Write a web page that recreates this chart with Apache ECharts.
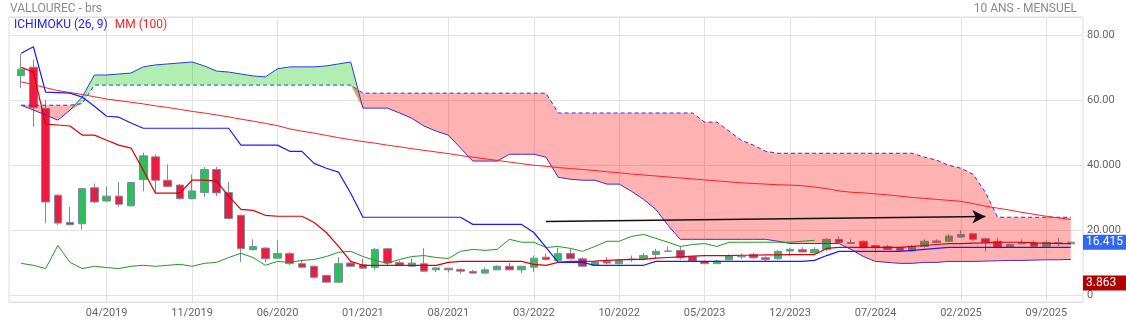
<!DOCTYPE html>
<html><head><meta charset="utf-8">
<script src="https://cdn.jsdelivr.net/npm/echarts@6/dist/echarts.min.js"></script>
<style>html,body{margin:0;padding:0;background:#fff}#c{width:1126px;height:322px}</style>
</head><body><div id="c"></div>
<script>
const MONTHS = [
 '09/2018','10/2018','11/2018','12/2018',
 '01/2019','02/2019','03/2019','04/2019','05/2019','06/2019','07/2019','08/2019','09/2019','10/2019','11/2019','12/2019',
 '01/2020','02/2020','03/2020','04/2020','05/2020','06/2020','07/2020','08/2020','09/2020','10/2020','11/2020','12/2020',
 '01/2021','02/2021','03/2021','04/2021','05/2021','06/2021','07/2021','08/2021','09/2021','10/2021','11/2021','12/2021',
 '01/2022','02/2022','03/2022','04/2022','05/2022','06/2022','07/2022','08/2022','09/2022','10/2022','11/2022','12/2022',
 '01/2023','02/2023','03/2023','04/2023','05/2023','06/2023','07/2023','08/2023','09/2023','10/2023','11/2023','12/2023',
 '01/2024','02/2024','03/2024','04/2024','05/2024','06/2024','07/2024','08/2024','09/2024','10/2024','11/2024','12/2024',
 '01/2025','02/2025','03/2025','04/2025','05/2025','06/2025','07/2025','08/2025','09/2025','10/2025','11/2025'
];
const X_TICKS = ['04/2019','11/2019','06/2020','01/2021','08/2021','03/2022','10/2022','05/2023','12/2023','07/2024','02/2025','09/2025'];
const Y_TICKS = [0, 20, 40, 60, 80];
const Y_TICK_LABELS = ['0', '20.000', '40.000', '60.00', '80.00'];

const OPEN = [67.7,70.3,57.6,30.9,22.5,22.1,33.2,29.1,30.6,27.6,
 35.7,42.7,35.5,34.0,29.8,31.7,38.8,31.7,24.7,14.1,
 14.6,11.5,12.9,9.8,9.0,6.2,4.1,10.0,9.5,8.7,
 14.4,10.1,9.0,9.8,7.9,8.4,8.0,7.4,6.9,7.9,
 9.0,7.9,8.7,11.8,10.8,12.9,11.3,9.3,10.5,9.8,
 11.0,11.3,12.6,13.6,13.9,12.0,10.5,9.8,11.0,11.9,
 12.7,11.6,11.3,13.7,14.1,13.1,14.2,17.3,16.0,16.7,
 15.4,15.1,14.7,13.7,15.1,16.3,16.7,18.0,19.0,17.5,
 16.7,14.9,15.9,16.3,15.2,16.3,15.9];
const CLOSE = [69.7,57.9,28.8,22.3,21.8,32.9,28.8,30.6,28.1,34.8,
 43.0,35.5,33.6,29.8,32.2,38.8,31.6,23.7,14.4,15.1,
 11.3,12.9,9.8,8.7,5.6,4.1,9.8,9.0,8.4,14.2,
 10.0,9.3,10.0,7.5,8.5,7.9,7.5,6.9,7.9,9.0,
 7.9,9.0,11.5,11.1,12.9,11.3,9.0,10.3,10.0,10.8,
 11.2,12.3,13.6,13.7,11.6,10.6,9.8,10.6,12.3,12.1,
 11.6,11.1,13.6,14.2,13.4,14.2,17.3,16.3,16.3,14.7,
 14.7,14.2,13.9,15.1,16.7,16.8,18.3,18.8,17.3,16.3,
 14.9,15.7,16.3,15.2,16.3,16.25,16.415];
const LOW = [63.8,51.9,22.2,21.6,21.6,20.3,28.3,28.8,27.3,27.4,
 32.1,31.4,33.4,29.6,29.6,30.3,30.6,23.4,10.3,13.9,
 10.3,11.4,9.3,8.6,5.2,3.863,4.0,8.7,8.4,7.9,
 9.3,9.2,8.9,7.4,7.2,7.1,6.7,6.8,6.7,7.8,
 7.8,6.9,7.3,10.8,10.7,11.2,8.7,9.2,9.6,9.6,
 10.3,10.8,11.3,13.4,11.1,10.3,9.7,9.7,10.9,11.3,
 11.3,10.3,11.0,12.3,13.2,13.0,13.6,16.0,15.9,14.5,
 13.2,14.0,13.8,13.6,14.7,16.1,16.6,17.9,16.8,13.7,
 14.6,14.8,15.8,15.1,15.1,15.2,15.8];
const HIGH = [74.4,72.7,60.2,31.2,27.3,33.0,34.5,33.6,34.9,35.0,
 44.0,43.4,40.4,34.3,37.3,39.6,39.6,35.0,24.9,17.3,
 14.9,17.0,13.4,11.0,9.3,6.3,11.8,10.8,11.3,14.7,
 14.5,10.8,11.5,14.6,8.6,8.5,8.5,7.9,8.7,9.3,
 10.0,9.1,12.3,12.9,14.7,14.4,11.8,10.6,11.8,11.3,
 12.3,13.1,14.4,15.1,15.1,12.2,10.8,11.0,12.7,12.9,
 13.1,12.0,14.0,14.7,14.9,14.9,17.7,18.2,17.3,17.0,
 15.5,15.6,14.9,15.6,17.3,17.3,19.0,20.1,19.2,17.8,
 17.8,16.0,17.3,16.9,16.9,17.8,16.6];

// Ichimoku lines
const TENKAN = [74.6,76.6,62.6,62.5,62.3,61.1,58.3,55.2,54.9,53.1,
 51.5,51.5,51.5,51.5,51.5,51.5,51.5,51.5,46.3,46.3,
 46.3,46.3,44.4,44.4,40.7,39.2,38.0,31.5,24.1,24.1,
 24.1,24.1,24.1,24.1,24.1,24.1,24.1,21.9,21.9,21.9,
 21.9,21.9,19.4,14.8,10.2,10.2,10.2,9.3,9.3,9.3,
 9.3,9.3,10.5,10.5,10.5,10.5,10.5,10.5,10.5,10.5,
 10.5,10.5,10.5,10.5,10.5,10.8,12.3,13.6,13.6,13.6,
 13.6,13.6,13.6,13.9,14.2,14.5,14.8,14.8,14.8,14.8,
 14.8,14.8,14.8,14.8,14.8,14.8,14.8];
const KIJUN = [70.3,68.8,52.8,52.5,52.2,49.4,49.4,47.8,46.3,45.4,
 38.6,31.5,31.5,31.5,35.5,35.5,35.2,30.6,26.5,26.2,
 24.7,24.4,24.4,24.4,22.5,19.4,15.1,10.5,9.3,9.3,
 9.3,9.3,9.3,9.3,9.3,10.2,10.5,10.5,10.5,10.5,
 10.5,10.5,9.6,9.3,10.2,10.5,10.5,10.6,10.8,11.0,
 11.1,11.1,11.5,11.7,11.9,12.1,12.3,12.3,12.3,12.4,
 12.4,12.5,12.5,12.6,12.6,12.6,14.5,14.8,14.8,14.8,
 14.8,14.8,14.8,15.1,15.4,15.7,16.0,16.0,16.1,16.2,
 16.4,16.4,16.4,16.2,16.1,16.0,16.0];
const SPAN_A = [58.6,57.1,55.6,54.0,57.1,61.1,67.9,67.9,68.2,68.5,
 70.4,71.0,71.3,71.6,71.9,70.7,69.1,68.8,68.2,67.6,
 67.3,69.8,70.4,70.4,70.4,70.7,71.3,71.9,57.7,57.7,
 57.7,56.2,54.6,52.2,50.6,49.4,45.4,41.4,41.4,41.4,
 43.5,43.5,43.5,42.6,36.4,35.8,35.5,35.5,34.3,34.3,
 32.1,29.6,26.5,21.6,17.3,17.3,17.3,17.3,17.3,17.3,
 17.3,17.3,16.7,16.0,16.0,16.0,16.0,16.0,14.2,12.0,
 10.5,10.2,9.9,9.9,10.2,10.2,10.5,10.5,10.5,10.6,
 10.7,10.8,10.8,10.9,11.0,11.0,11.1];
const SPAN_B = [58.6,58.6,58.6,58.6,58.6,59.1,64.8,64.8,64.8,64.8,
 64.8,64.8,64.8,64.8,64.8,64.8,64.8,64.8,64.8,64.8,
 64.8,64.8,64.8,64.8,64.8,64.8,64.8,64.8,62.3,62.3,
 62.3,62.3,62.3,62.3,62.3,62.3,62.3,62.3,62.3,62.3,
 62.3,62.3,62.3,62.3,56.2,56.2,56.2,56.2,56.2,56.2,
 56.2,56.2,56.2,56.2,56.2,56.2,53.4,53.4,50.6,47.8,
 46.3,44.4,43.8,43.8,43.8,43.8,43.8,43.8,43.8,43.8,
 43.8,43.8,43.8,43.8,42.6,41.7,40.1,39.2,37.3,31.8,
 24.1,24.1,24.1,24.1,24.1,24.1,24.1];
const CHIKOU = [9.9,9.3,8.3,15.4,10.2,8.3,9.0,8.6,8.3,9.0,
 9.3,9.0,9.3,9.6,9.0,9.9,10.2,11.7,13.0,11.7,
 9.3,10.5,10.2,10.8,11.1,12.0,13.3,13.6,12.0,10.8,
 9.9,11.1,12.0,12.3,11.7,11.4,13.6,14.2,13.9,14.2,
 17.3,16.4,16.4,14.8,15.1,14.5,13.6,15.1,16.7,16.7,
 18.2,18.8,17.6,16.4,15.1,15.7,16.0,15.1,16.4,16.4,
 16.4,16.4,16.4,16.4,16.7,17.0];
const MM100 = [65.8,64.9,64.0,63.1,62.5,61.9,61.2,60.5,60.0,59.5,
 59.0,58.4,57.9,57.3,56.7,56.2,55.6,55.0,54.3,53.7,
 53.0,52.3,51.3,50.6,50.0,49.3,48.6,48.0,47.4,46.9,
 46.3,45.8,45.2,44.7,44.2,43.7,43.1,42.6,42.1,41.6,
 41.1,40.6,40.1,39.8,39.4,39.1,38.8,38.5,38.1,37.8,
 37.4,37.1,36.8,36.5,36.2,35.9,35.6,35.3,35.0,34.7,
 34.5,34.3,34.1,34.0,33.8,33.4,32.9,32.2,31.8,31.6,
 31.3,31.0,30.6,30.2,29.9,29.6,29.3,29.0,28.3,27.5,
 26.9,26.3,25.6,25.0,24.4,23.9,23.4];

const LAST_CLOSE = 16.415;
const PERIOD_LOW = 3.863;
const ARROW_FROM = ['04/2022', 22.8];
const ARROW_TO = ['04/2025', 24.3];

// ---- build options ----
const CATS = [' ', ...MONTHS, '  '];
const pad = (arr, empty) => [empty, ...arr, ...Array(CATS.length - 1 - arr.length).fill(empty)];
const candles = pad(MONTHS.map((m, i) => [OPEN[i], CLOSE[i], LOW[i], HIGH[i]]), ['-', '-', '-', '-']);
const cloudBase = MONTHS.map((m, i) => Math.min(SPAN_A[i], SPAN_B[i]));
const cloudGreen = MONTHS.map((m, i) => Math.max(SPAN_A[i] - SPAN_B[i], 0));
const cloudRed = MONTHS.map((m, i) => Math.max(SPAN_B[i] - SPAN_A[i], 0));
const FONT = 'Roboto';
const isTick = (idx, val) => X_TICKS.includes(val);

const lineS = (name, data, color, width, z, extra) => Object.assign({
  name, type: 'line', data: pad(data, '-'), symbol: 'none', silent: true, z,
  lineStyle: { color, width }, emphasis: { disabled: true }
}, extra || {});

const priceLine = (value, bg) => [
  { coord: [0, value] },
  { coord: [CATS.length - 1, value],
    label: { show: true, position: 'end', distance: 0, formatter: value.toFixed(3), color: '#fff',
      backgroundColor: bg, padding: [1, 3, 1, 3], width: 37, fontSize: 12, lineHeight: 13, fontFamily: FONT } }
];

const chart = echarts.init(document.getElementById('c'), null, { renderer: 'canvas' });
chart.setOption({
  animation: false,
  backgroundColor: '#fff',
  textStyle: { fontFamily: FONT },
  title: [
    { text: 'VALLOUREC - brs', left: 10, top: 3, padding: 0, textStyle: { fontSize: 12, color: '#8a8a8a', fontWeight: 'normal', fontFamily: FONT } },
    { text: '10 ANS - MENSUEL', right: 49, top: 3, padding: 0, textStyle: { fontSize: 12, color: '#8a8a8a', fontWeight: 'normal', fontFamily: FONT } }
  ],
  legend: {
    left: 9, top: 19, padding: 0, itemWidth: 0, itemHeight: 0, itemGap: 2, icon: 'none', selectedMode: false,
    textStyle: { fontSize: 12, fontFamily: FONT },
    data: [
      { name: 'ICHIMOKU (26, 9)', textStyle: { color: '#2020ff' } },
      { name: 'MM (100)', textStyle: { color: '#ff2020' } }
    ]
  },
  grid: { left: 9, right: 43, top: 17, bottom: 20, show: true, borderColor: '#dcdcdc', borderWidth: 1 },
  xAxis: {
    type: 'category', data: CATS, boundaryGap: false,
    axisLine: { show: false }, axisTick: { show: false },
    axisLabel: { interval: isTick, color: '#666', fontSize: 11, fontFamily: FONT, margin: 6 },
    splitLine: { show: true, interval: isTick, lineStyle: { color: '#e2e2e2', width: 1 } }
  },
  yAxis: {
    type: 'value', position: 'right', min: -2.0, max: 85.76, minInterval: 20, maxInterval: 20,
    axisLine: { show: false }, axisTick: { show: false },
    axisLabel: { color: '#666', fontSize: 11, fontFamily: FONT, margin: 4,
      formatter: v => { const k = Y_TICKS.indexOf(Math.round(v * 1000) / 1000); return k >= 0 ? Y_TICK_LABELS[k] : ''; } },
    splitLine: { show: true, lineStyle: { color: '#e2e2e2', width: 1 } }
  },
  series: [
    {
      name: 'candles', type: 'candlestick', data: candles, z: 2, silent: true, barWidth: 8,
      itemStyle: { color: '#2dbf5b', color0: '#ee1c40', borderColor: '#7d8ba3', borderColor0: '#7d8ba3', borderWidth: 1 }
    },
    lineS('spanA', SPAN_A, '#2a2aff', 1, 3),
    lineS('spanB', SPAN_B, '#2a2aff', 1, 3, { lineStyle: { color: '#2a2aff', width: 1, type: [4, 3] } }),
    lineS('baseG', cloudBase, 'rgba(0,0,0,0)', 0, 4, { stack: 'cg' }),
    lineS('cloudG', cloudGreen, 'rgba(0,0,0,0)', 0, 4, { stack: 'cg', areaStyle: { color: 'rgba(0,195,0,0.3)', opacity: 1 } }),
    lineS('baseR', cloudBase, 'rgba(0,0,0,0)', 0, 4, { stack: 'cr' }),
    lineS('cloudR', cloudRed, 'rgba(0,0,0,0)', 0, 4, { stack: 'cr', areaStyle: { color: 'rgba(255,0,0,0.3)', opacity: 1 } }),
    lineS('chikou', CHIKOU, '#1f9a1f', 1, 5),
    lineS('MM (100)', MM100, '#ff2020', 1, 5),
    lineS('kijun', KIJUN, '#dd0000', 1.2, 6),
    lineS('ICHIMOKU (26, 9)', TENKAN, '#1a1aff', 1.2, 6),
    {
      name: 'arrow', type: 'line', data: [], z: 7, silent: true,
      markLine: {
        silent: true, symbol: ['none', 'arrow'], symbolSize: [10, 13],
        lineStyle: { color: '#111', width: 1.5, type: 'solid' }, label: { show: false },
        data: [[{ coord: ARROW_FROM }, { coord: ARROW_TO }]]
      }
    },
    {
      name: 'prices', type: 'line', data: [], z: 8, silent: true, clip: false,
      markLine: {
        silent: true, symbol: 'none', lineStyle: { color: 'rgba(255,255,255,0)', width: 1, type: 'solid' },
        label: { show: true },
        data: [priceLine(LAST_CLOSE, '#3167f5'), priceLine(PERIOD_LOW, '#b00000')]
      }
    }
  ]
});
</script></body></html>
